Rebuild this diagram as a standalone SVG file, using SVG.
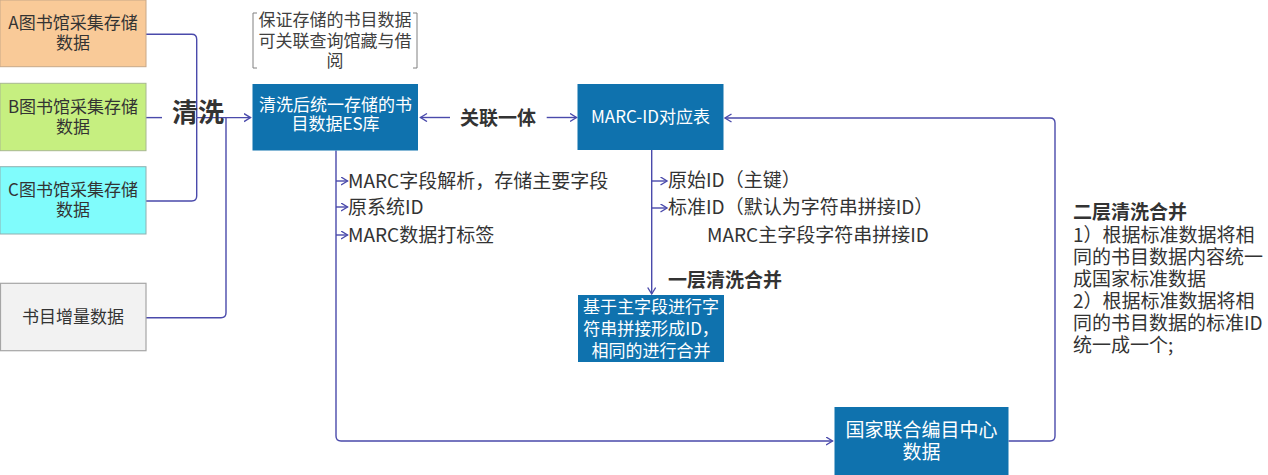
<svg xmlns="http://www.w3.org/2000/svg" width="1268" height="475" viewBox="0 0 1268 475">
<defs>
<style>
text{font-family:"Noto Sans CJK SC","Noto Sans",sans-serif;fill:#333;}
.bx{font-size:17px;text-anchor:middle;}
.w{fill:#fff;}
.t19{font-size:19px;}
.b{font-weight:bold;}
.note{font-size:17px;text-anchor:middle;fill:#404040;}
.ln{fill:none;stroke:#4a4aab;stroke-width:1.4;}
.blue{fill:#0F72AE;}
</style>
<marker id="ah" markerUnits="userSpaceOnUse" markerWidth="9" markerHeight="10" refX="7" refY="4.5" orient="auto" viewBox="0 0 9 10">
<path d="M0.5,0.5 L7,4.5 L0.5,8.5" fill="none" stroke="#4a4aab" stroke-width="1.4"/>
</marker>
</defs>
<rect width="1268" height="475" fill="#fff"/>

<g id="connectors">
<path class="ln" d="M146,34.3 H191.7 Q196.7,34.3 196.7,39.3 V117.6"/>
<path class="ln" d="M146,201 H191.7 Q196.7,201 196.7,196 V117.6"/>
<path class="ln" d="M146,117.6 H162"/>
<path class="ln" d="M196.7,117.6 H250.5" marker-end="url(#ah)"/>
<path class="ln" d="M146,317.7 H221 Q226,317.7 226,312.7 V117.6"/>
<path class="ln" d="M450,117.5 H420.5" marker-end="url(#ah)"/>
<path class="ln" d="M546.7,117.5 H576.5" marker-end="url(#ah)"/>
<path class="ln" d="M336,150.5 V436 Q336,441 341,441 H832.5" marker-end="url(#ah)"/>
<path class="ln" d="M336,181 H347.5" marker-end="url(#ah)"/>
<path class="ln" d="M336,207 H347.5" marker-end="url(#ah)"/>
<path class="ln" d="M336,235 H347.5" marker-end="url(#ah)"/>
<path class="ln" d="M651.7,150 V294" marker-end="url(#ah)"/>
<path class="ln" d="M651.7,181 H667" marker-end="url(#ah)"/>
<path class="ln" d="M651.7,208 H667" marker-end="url(#ah)"/>
<path class="ln" d="M1008.5,441 H1050 Q1055,441 1055,436 V123 Q1055,118 1050,118 H725" marker-end="url(#ah)"/>
</g>

<g id="nodeA">
<rect x="0" y="0" width="146" height="66.7" fill="#F9CA98" stroke="#C8A888" stroke-width="1"/>
<text class="bx" x="73" y="29">A图书馆采集存储</text>
<text class="bx" x="73" y="49">数据</text>
</g>
<g id="nodeB">
<rect x="0" y="83.3" width="146" height="67.4" fill="#C6EF80" stroke="#A8B890" stroke-width="1"/>
<text class="bx" x="73" y="113">B图书馆采集存储</text>
<text class="bx" x="73" y="133">数据</text>
</g>
<g id="nodeC">
<rect x="0" y="166.7" width="146" height="67.3" fill="#80FCFC" stroke="#90B0B0" stroke-width="1"/>
<text class="bx" x="73" y="196">C图书馆采集存储</text>
<text class="bx" x="73" y="216">数据</text>
</g>
<g id="nodeIncr">
<rect x="0.5" y="283.3" width="145.5" height="67.4" fill="#F2F2F2" stroke="#A6A6A6" stroke-width="1.2"/>
<text class="bx" x="73" y="323">书目增量数据</text>
</g>

<g id="labelClean">
<text x="172" y="122" style="font-size:26px;font-weight:bold;">清洗</text>
</g>

<g id="note">
<path d="M257,13 H253 V68 H257" fill="none" stroke="#808080" stroke-width="1"/>
<path d="M413,13 H417 V68 H413" fill="none" stroke="#808080" stroke-width="1"/>
<text class="note" x="335" y="26">保证存储的书目数据</text>
<text class="note" x="335" y="46.5">可关联查询馆藏与借</text>
<text class="note" x="335" y="66.5">阅</text>
</g>

<g id="nodeES">
<rect class="blue" x="252.5" y="84" width="165.5" height="66.5"/>
<text class="bx w" x="335.5" y="111">清洗后统一存储的书</text>
<text class="bx w" x="335.5" y="130">目数据ES库</text>
</g>

<g id="labelLink">
<text class="t19 b" x="460" y="124.5">关联一体</text>
</g>

<g id="nodeMARC">
<rect class="blue" x="577.5" y="84" width="146" height="66"/>
<text class="bx w" x="650.5" y="123">MARC-ID对应表</text>
</g>

<g id="esList">
<text class="t19" x="348" y="188">MARC字段解析，存储主要字段</text>
<text class="t19" x="348" y="214">原系统ID</text>
<text class="t19" x="348" y="242">MARC数据打标签</text>
</g>

<g id="marcList">
<text class="t19" x="668" y="187">原始ID（主键）</text>
<text class="t19" x="668" y="214">标准ID（默认为字符串拼接ID）</text>
<text class="t19" x="707" y="242">MARC主字段字符串拼接ID</text>
</g>

<g id="labelLayer1">
<text class="t19 b" x="668" y="287">一层清洗合并</text>
</g>

<g id="nodeMerge">
<rect class="blue" x="578" y="295" width="146" height="67"/>
<text class="bx w" x="651" y="313">基于主字段进行字</text>
<text class="bx w" x="651" y="335">符串拼接形成ID，</text>
<text class="bx w" x="651" y="357">相同的进行合并</text>
</g>

<g id="nodeNational">
<rect class="blue" x="834.5" y="407" width="174" height="68"/>
<text class="t19 w" x="921.5" y="437" text-anchor="middle">国家联合编目中心</text>
<text class="t19 w" x="921.5" y="459" text-anchor="middle">数据</text>
</g>

<g id="labelLayer2">
<text class="t19 b" x="1073" y="219">二层清洗合并</text>
<text class="t19" x="1073" y="241.5">1）根据标准数据将相</text>
<text class="t19" x="1073" y="263.5">同的书目数据内容统一</text>
<text class="t19" x="1073" y="285.5">成国家标准数据</text>
<text class="t19" x="1073" y="307.5">2）根据标准数据将相</text>
<text class="t19" x="1073" y="329.5">同的书目数据的标准ID</text>
<text class="t19" x="1073" y="351.5">统一成一个;</text>
</g>
</svg>
